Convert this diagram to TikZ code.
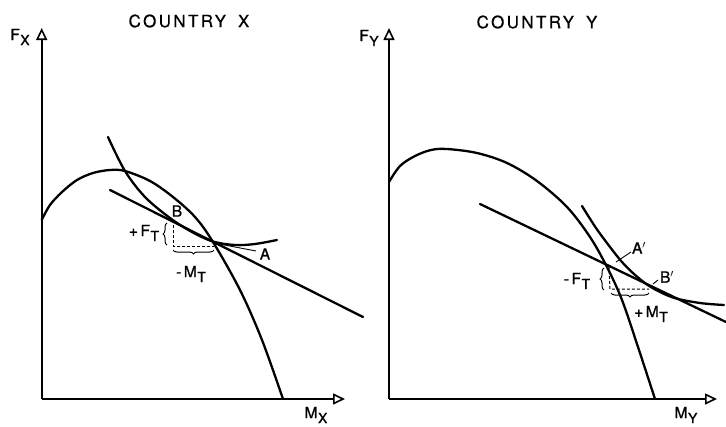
\documentclass[tikz,border=0pt]{standalone}
\usepackage{fontspec}
\setmainfont{TeX Gyre Heros}[FakeBold=1.2]
\usetikzlibrary{arrows.meta,decorations.pathreplacing}
\newcommand{\lbl}[2]{#1\kern0.5pt\raisebox{-5pt}{\fontsize{14}{14}\selectfont #2}}
\begin{document}
\begin{tikzpicture}[x=1pt,y=-1pt,
  curve/.style={line width=2.3pt,line cap=round,line join=round},
  axisline/.style={line width=1.8pt,-{Triangle[open,length=12pt,width=11pt,line width=1.6pt]}},
  leader/.style={line width=0.9pt},
  dashline/.style={line width=1pt,dash pattern=on 3pt off 2pt},
  brc/.style={line width=1pt,decorate,decoration={brace,amplitude=4pt}},
  title/.style={font=\fontsize{17}{19}\selectfont\addfontfeature{LetterSpace=14,FakeBold=0.6}},
  lab/.style={font=\fontsize{15.5}{17}\selectfont,inner sep=0pt}]
\useasboundingbox (0,0) rectangle (726,426);
% ---------------- Country X ----------------
\coordinate (OX) at (41.7,399);
\coordinate (TX) at (41.7,28);
\coordinate (RX) at (345,399);
\draw[axisline] (OX) -- (TX);
\draw[axisline] (OX) -- (RX);
\node[title] (cx) at (189,21) {COUNTRY\hspace{12pt}X};
\node[lab] (fx) at (20,37) {\lbl{F}{X}};
\node[lab] (mx) at (316,415) {\lbl{M}{X}};
% hump
\draw[curve] plot[smooth,tension=0.55] coordinates {(41.7,220) (50,205) (62,192) (77,180) (93,173) (110,170) (125,171) (150,181) (173,197) (195,217) (213,242) (240,290) (262,340) (283,399)};
% line
\coordinate (L1) at (110,190);
\coordinate (L2) at (363,317);
\draw[curve] (L1) -- (L2);
% convex curve
\draw[curve] plot[smooth,tension=0.55] coordinates {(108,137) (125,171) (145,197) (170,218) (192,232) (213,241.5) (235,245) (255,244) (277,240)};
% points
\coordinate (PB) at (173,220);
\coordinate (PA) at (214,243);
\coordinate (DX) at (173,246);
\coordinate (EX) at (214,246);
\draw[dashline] (PB) -- (DX) -- (EX);
\draw[brc] (167,245) -- (167,223);
\draw[brc] (214,250) -- (173,250);
\coordinate (AL) at (256,251);
\draw[leader] (PA) -- (AL);
\node[lab] (lA) at (265,254) {A};
\node[lab] (lB) at (177,211) {B};
\node[lab] (fT) at (144,233) {+\,\lbl{F}{T}};
\node[lab] (mT) at (191,274) {-\,\lbl{M}{T}};
% ---------------- Country Y ----------------
\coordinate (OY) at (389,399);
\coordinate (TY) at (389,28);
\coordinate (RY) at (717,399);
\draw[axisline] (OY) -- (TY);
\draw[axisline] (OY) -- (RY);
\node[title] (cy) at (537,22) {COUNTRY\hspace{12pt}Y};
\node[lab] (fy) at (369,38) {\lbl{F}{Y}};
\node[lab] (my) at (686,415) {\lbl{M}{Y}};
% hump
\draw[curve] plot[smooth,tension=0.55] coordinates {(389,182) (400,166) (415,156) (431,150) (447,149) (477,153) (507,163) (537,181) (567,207) (590,237) (607,267) (622,300) (638,347) (655,399)};
% line
\coordinate (M1) at (480,204);
\coordinate (M2) at (726,322);
\draw[curve] (M1) -- (M2);
% convex curve
\draw[curve] plot[smooth,tension=0.55] coordinates {(582,206) (596,228) (610,247) (622,262) (634,274) (650,286.5) (673,297.5) (700,303) (724,305)};
\coordinate (PA2) at (609,266);
\coordinate (PB2) at (649,286);
\coordinate (DY) at (610,289);
\coordinate (EY) at (649,289);
\draw[dashline] (PA2) -- (DY) -- (EY);
\draw[brc] (604,290) -- (604,268);
\draw[brc] (649,293) -- (611,293);
\coordinate (AP1) at (616,262);
\coordinate (AP2) at (631,252);
\draw[leader] (AP1) -- (AP2);
\coordinate (BP1) at (653,284);
\coordinate (BP2) at (658,280);
\draw[leader] (BP1) -- (BP2);
\node[lab] (lA2) at (639,248) {A$'$};
\node[lab] (lB2) at (667,277) {B$'$};
\node[lab] (fT2) at (577,281) {-\,\lbl{F}{T}};
\node[lab] (mT2) at (651,314) {+\,\lbl{M}{T}};
\end{tikzpicture}
\end{document}
